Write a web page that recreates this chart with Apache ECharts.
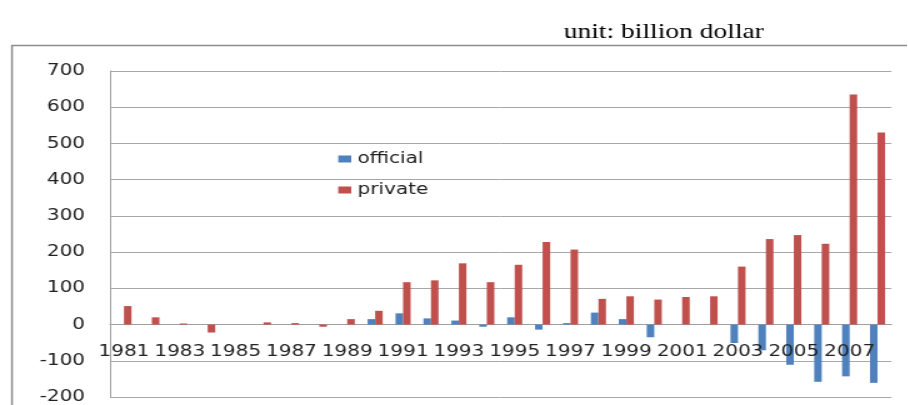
<!DOCTYPE html>
<html>
<head>
<meta charset="utf-8">
<script src="https://cdn.jsdelivr.net/npm/echarts@6/dist/echarts.min.js"></script>
<style>
html,body{margin:0;padding:0;background:#fff;overflow:hidden;width:908px;height:405px;}
#c{width:726.4px;height:405px;transform:scaleX(1.25);transform-origin:0 0;}
</style>
</head>
<body>
<div id="c"></div>
<script>
const years = ['1981','1982','1983','1984','1985','1986','1987','1988','1989','1990','1991','1992','1993','1994','1995','1996','1997','1998','1999','2000','2001','2002','2003','2004','2005','2006','2007','2008'];
const official = [0,0,0,0,0,0,0,0,0,15,31,17,11,-6,20,-14,4,33,15,-35,0,0,-51,-71,-111,-158,-143,-161];
const privateFlows = [51,20,3,-22,0,6,4,-6,15,38,117,122,169,117,165,228,207,71,78,69,76,78,160,236,247,223,635,530];
const yTicks = {min:-200, max:700, interval:100};

const chart = echarts.init(document.getElementById('c'), null, {renderer:'canvas'});
const font = 'DejaVu Sans';
const gridTop = 71, gridBottomPx = 397;
const zeroY = gridTop + (gridBottomPx - gridTop) * (yTicks.max - 0) / (yTicks.max - yTicks.min);
chart.setOption({
  animation:false,
  backgroundColor:'#fff',
  title:{
    text:'unit: billion dollar',
    left:446, top:16,
    textStyle:{fontFamily:'Liberation Serif', fontSize:22, fontWeight:'normal', color:'#000'}
  },
  graphic:[{
    type:'rect', silent:true,
    shape:{x:9.6, y:45.5, width:2000, height:1000},
    style:{fill:'none', stroke:'#8c8c8c', lineWidth:1.5}
  }],
  legend:{
    orient:'vertical', left:265.6, top:146,
    itemWidth:10.4, itemHeight:7, itemGap:15,
    icon:'rect',
    textStyle:{fontFamily:font, fontSize:16, color:'#222'},
    data:['official','private']
  },
  grid:{left:88, right:12.8, top:gridTop, bottom:405 - gridBottomPx, containLabel:false, outerBoundsMode:'none'},
  xAxis:[{
    type:'category', data:years,
    axisLine:{show:true, onZero:true, lineStyle:{color:'#a0a0a0', width:1}},
    axisTick:{show:false},
    axisLabel:{show:false},
    splitLine:{show:false}
  },{
    type:'category', data:years, position:'bottom', z:10,
    offset:-(gridBottomPx - zeroY),
    axisLine:{show:false, onZero:false},
    axisTick:{show:false},
    axisLabel:{interval:1, margin:19, fontFamily:font, fontSize:16, color:'#222'},
    splitLine:{show:false}
  }],
  yAxis:{
    type:'value', min:yTicks.min, max:yTicks.max, interval:yTicks.interval,
    axisLine:{show:true, lineStyle:{color:'#a0a0a0', width:1}},
    axisTick:{show:false},
    axisLabel:{margin:20, fontFamily:font, fontSize:16, color:'#222'},
    splitLine:{show:true, lineStyle:{color:'#a8a8a8', width:1}}
  },
  series:[
    {name:'official', type:'bar', data:official, barWidth:'27%', barGap:'0%',
     itemStyle:{color:'#4F81BD'}},
    {name:'private', type:'bar', data:privateFlows, barWidth:'27%', barGap:'0%',
     itemStyle:{color:'#C0504D'}}
  ]
});
</script>
</body>
</html>
